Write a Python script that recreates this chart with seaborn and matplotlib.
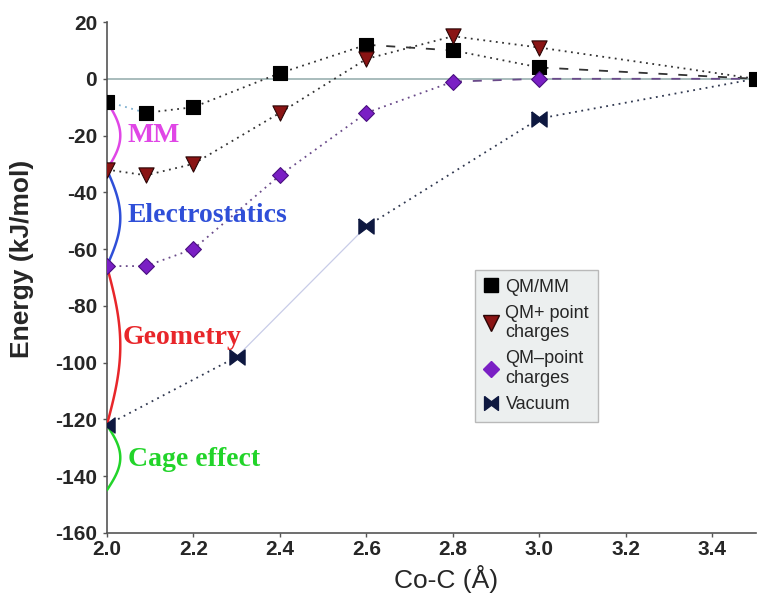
import numpy as np
import matplotlib
matplotlib.use("Agg")
import matplotlib.pyplot as plt
import seaborn as sns
from matplotlib.lines import Line2D

# ---- data ----
x_qmmm = [2.0, 2.09, 2.2, 2.4, 2.6, 2.8, 3.0, 3.5]
y_qmmm = [-8, -12, -10, 2, 12, 10, 4, 0]
x_qmpc = [2.0, 2.09, 2.2, 2.4, 2.6, 2.8, 3.0, 3.5]
y_qmpc = [-32, -34, -30, -12, 7, 15, 11, 0]
x_qmnopc = [2.0, 2.09, 2.2, 2.4, 2.6, 2.8, 3.0, 3.5]
y_qmnopc = [-66, -66, -60, -34, -12, -1, 0, 0]
x_vac = [2.0, 2.3, 2.6, 3.0, 3.5]
y_vac = [-122, -98, -52, -14, 0]

arc_labels = ["MM", "Electrostatics", "Geometry", "Cage effect"]
arc_top = [-8, -32, -66, -122]
arc_bottom = [-32, -66, -122, -145]
arc_colors = ["#e046e6", "#2f4fd8", "#e8262a", "#22d42a"]
arc_label_y = [-20, -48, -91, -134]
arc_label_x = [2.048, 2.048, 2.037, 2.048]

xticks = [2.0, 2.2, 2.4, 2.6, 2.8, 3.0, 3.2, 3.4]
yticks = list(range(-160, 21, 20))

sns.set_style("white")
plt.rcParams['font.family'] = ['Liberation Sans', 'DejaVu Sans']

fig = plt.figure(figsize=(7.58, 5.96), dpi=100)
ax = fig.add_axes([0.141, 0.106, 0.856, 0.857])

ax.axhline(0, color="#9ab0b0", lw=1.2, zorder=1)

dot = (0, (1, 2.5))
dash = (0, (5, 6))
def seg(xs, ys, i, j, style, color="#333333", lw=1.3):
    ax.plot(xs[i:j + 1], ys[i:j + 1], linestyle=style, color=color, lw=lw, zorder=2)

# QM/MM
seg(x_qmmm, y_qmmm, 0, 1, dot, color="#7fb0d0")
seg(x_qmmm, y_qmmm, 1, 4, dot)
seg(x_qmmm, y_qmmm, 4, 5, dash)
seg(x_qmmm, y_qmmm, 5, 6, dot)
seg(x_qmmm, y_qmmm, 6, 7, dash)
# QM + point charges
seg(x_qmpc, y_qmpc, 0, 7, dot)
# QM - point charges
seg(x_qmnopc, y_qmnopc, 0, 5, dot, color="#6a4a8a")
seg(x_qmnopc, y_qmnopc, 5, 7, dash, color="#6a4a8a")
# Vacuum
seg(x_vac, y_vac, 0, 1, dot, color="#303850")
seg(x_vac, y_vac, 1, 2, "-", color="#c8cce8", lw=0.9)
seg(x_vac, y_vac, 2, 4, dot, color="#303850")

bowtie = [(-1, 1), (0, 0.25), (1, 1), (1, -1), (0, -0.25), (-1, -1), (-1, 1)]

sns.scatterplot(x=x_qmmm, y=y_qmmm, ax=ax, marker="s", s=100, color="black",
                edgecolor="black", zorder=4)
sns.scatterplot(x=x_qmpc[:-1], y=y_qmpc[:-1], ax=ax, marker="v", s=120, color="#8a1414",
                edgecolor="#2a0505", linewidth=0.8, zorder=4)
sns.scatterplot(x=x_qmnopc[:-1], y=y_qmnopc[:-1], ax=ax, marker="D", s=65, color="#7a1fc4",
                edgecolor="#4a1080", linewidth=0.8, zorder=4)
sns.scatterplot(x=x_vac[:-1], y=y_vac[:-1], ax=ax, marker=bowtie, s=120, color="#0e1840",
                edgecolor="#0e1840", zorder=4)

# arcs and labels
for lab, y1, y2, c, ly, lx in zip(arc_labels, arc_top, arc_bottom, arc_colors,
                                  arc_label_y, arc_label_x):
    t = np.linspace(0, 1, 60)
    ax.plot(2.0 + 0.031 * np.sin(np.pi * t), y1 + (y2 - y1) * t, color=c, lw=1.8, zorder=3)
    ax.text(lx, ly, lab, color=c, fontsize=20, fontweight="bold",
            family=["Liberation Serif", "DejaVu Serif"], va="center", ha="left", zorder=5)

ax.set_xlim(2.0, 3.5)
ax.set_ylim(-160, 20)
ax.set_xticks(xticks)
ax.set_xticklabels([f"{v:.1f}" for v in xticks], fontsize=15, fontweight="bold")
ax.set_yticks(yticks)
ax.set_yticklabels([str(v) for v in yticks], fontsize=15, fontweight="bold")
ax.tick_params(axis="both", length=3, width=1, color="#555555", pad=4, direction="out")
ax.tick_params(axis="y", left=True)
ax.tick_params(axis="x", bottom=True, pad=2)
for s in ["top", "right"]:
    ax.spines[s].set_visible(False)
for s in ["left", "bottom"]:
    ax.spines[s].set_color("#555555")
    ax.spines[s].set_linewidth(1.2)

ax.set_xlabel("Co-C (Å)", fontsize=19)
ax.set_ylabel("Energy (kJ/mol)", fontsize=19, fontweight="bold")
ax.xaxis.set_label_coords(0.522, -0.063)
ax.yaxis.set_label_coords(-0.112, 0.536)

handles = [
    Line2D([], [], marker="s", color="black", ls="none", markersize=10),
    Line2D([], [], marker="v", color="#8a1414", markeredgecolor="#2a0505", ls="none", markersize=11),
    Line2D([], [], marker="D", color="#7a1fc4", ls="none", markersize=8),
    Line2D([], [], marker=bowtie, color="#0e1840", ls="none", markersize=10),
]
labels = ["QM/MM", "QM+ point\ncharges", "QM\u2013point\ncharges", "Vacuum"]
leg = ax.legend(handles, labels, loc="upper left", bbox_to_anchor=(0.567, 0.515),
                frameon=True, fancybox=False, fontsize=13, handlelength=0.8,
                handletextpad=0.4, labelspacing=0.5, borderpad=0.5,
                borderaxespad=0)
leg.get_frame().set_facecolor("#e8ecec")
leg.get_frame().set_edgecolor("#aaaaaa")

fig.savefig("out.png", dpi=100)
